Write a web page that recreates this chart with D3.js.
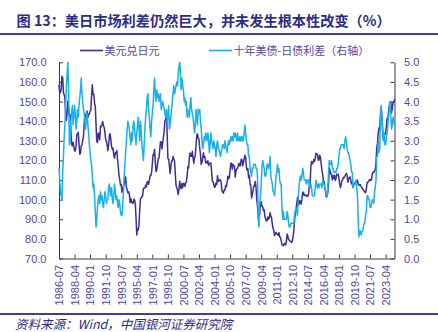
<!DOCTYPE html>
<html>
<head>
<meta charset="utf-8">
<script src="https://cdn.jsdelivr.net/npm/d3@7"></script>
<style>
  html, body { margin: 0; padding: 0; background: #fff; }
  svg { display: block; }
</style>
</head>
<body>
<svg id="chart" width="438" height="332"></svg>
<script>
// Monthly series starting 1986-07
const startYear = 1986, startMonth = 7;

// USD/JPY (left axis)
const usdJpy = [
  158.6, 154.2, 154.7, 156.5, 162.9, 162.1,                                   // 1986 H2
  154.5, 153.5, 151.6, 143.0, 140.5, 144.5, 150.3, 147.3, 143.3, 143.3, 135.4, 128.3, // 1987
  127.4, 129.3, 127.1, 124.9, 124.8, 127.2, 133.1, 133.6, 134.3, 128.6, 123.2, 123.6, // 1988
  127.4, 127.8, 130.4, 132.0, 138.4, 143.9, 140.4, 141.5, 145.1, 141.9, 143.5, 143.6, // 1989
  145.0, 145.7, 153.3, 158.5, 153.5, 153.7, 149.0, 147.5, 138.4, 129.6, 129.2, 133.9, // 1990
  133.7, 130.5, 137.4, 137.1, 138.2, 139.8, 137.8, 136.8, 134.3, 130.8, 129.6, 128.0, // 1991
  125.0, 127.6, 132.8, 133.6, 130.6, 126.9, 125.6, 126.3, 122.6, 121.2, 123.9, 123.7, // 1992
  125.0, 120.8, 117.0, 112.4, 110.3, 107.4, 107.7, 103.8, 105.3, 107.0, 107.9, 109.9, // 1993
  111.5, 106.3, 105.1, 103.5, 104.0, 102.7, 98.5, 100.6, 98.9, 98.4, 98.0, 100.2,     // 1994
  99.8, 98.2, 90.7, 82.0, 85.2, 84.6, 87.2, 94.7, 100.5, 100.8, 101.9, 101.9,         // 1995
  105.8, 105.8, 105.9, 107.4, 106.5, 108.9, 109.2, 107.8, 109.8, 112.3, 112.3, 113.9, // 1996
  118.0, 123.0, 122.6, 125.6, 119.2, 114.3, 115.1, 117.9, 120.9, 121.1, 125.4, 129.5, // 1997
  129.5, 125.9, 129.0, 132.0, 134.9, 140.3, 140.7, 144.7, 134.5, 121.1, 120.7, 117.4, // 1998
  113.3, 116.7, 119.7, 119.7, 122.0, 120.7, 119.8, 113.4, 107.4, 106.0, 104.8, 102.6, // 1999
  105.3, 109.4, 106.3, 105.6, 108.3, 106.1, 108.2, 108.1, 106.8, 108.4, 109.0, 112.2, // 2000
  116.7, 116.2, 121.5, 123.8, 122.1, 122.1, 124.5, 121.3, 118.6, 121.5, 122.4, 127.6, // 2001
  132.7, 133.6, 131.1, 130.8, 126.3, 123.2, 118.0, 118.9, 121.1, 123.9, 121.6, 121.9, // 2002
  118.8, 119.3, 118.6, 119.8, 117.4, 118.3, 118.7, 118.7, 114.8, 109.5, 109.2, 107.7, // 2003
  106.3, 106.7, 108.5, 107.7, 112.2, 109.4, 109.4, 110.2, 110.0, 108.8, 104.7, 103.8, // 2004
  103.3, 104.9, 104.8, 107.2, 106.6, 108.8, 111.9, 110.6, 111.2, 114.9, 118.5, 118.5, // 2005
  115.5, 117.9, 117.3, 117.1, 111.5, 114.6, 115.7, 115.9, 117.2, 118.6, 117.3, 117.3, // 2006
  120.6, 120.5, 117.3, 118.8, 120.8, 122.6, 121.6, 116.7, 115.0, 115.9, 111.1, 112.4, // 2007
  107.8, 107.1, 100.8, 102.7, 104.4, 106.9, 106.9, 109.3, 106.6, 100.0, 96.8, 91.3,   // 2008
  90.1, 92.5, 97.8, 98.9, 96.6, 96.6, 94.5, 94.9, 91.4, 90.3, 89.1, 89.5,             // 2009
  91.1, 90.1, 90.7, 93.4, 91.7, 90.9, 87.6, 85.4, 84.3, 81.7, 82.5, 83.3,             // 2010
  82.6, 82.5, 81.8, 83.2, 81.2, 80.5, 79.3, 77.0, 76.8, 76.5, 77.5, 77.8,             // 2011
  76.9, 78.5, 82.5, 81.3, 79.7, 79.3, 78.9, 78.7, 78.2, 79.0, 80.9, 83.9,             // 2012
  89.2, 93.1, 94.9, 97.8, 101.1, 97.3, 99.7, 97.9, 99.3, 97.8, 100.1, 103.5,          // 2013
  103.9, 102.1, 102.3, 102.5, 101.8, 102.1, 101.7, 102.9, 107.4, 108.0, 116.4, 119.4, // 2014
  118.3, 118.8, 120.4, 119.5, 120.8, 123.7, 123.3, 123.1, 120.1, 120.1, 122.6, 121.6, // 2015
  118.3, 115.0, 113.0, 109.7, 109.2, 105.5, 104.1, 101.3, 101.8, 103.8, 108.6, 116.1, // 2016
  114.9, 113.1, 113.0, 110.1, 112.2, 110.9, 112.4, 109.8, 110.8, 112.9, 112.8, 112.9, // 2017
  110.9, 107.9, 106.1, 107.6, 109.7, 110.1, 111.4, 111.1, 111.9, 112.8, 113.4, 112.3, // 2018
  108.9, 110.4, 111.2, 111.6, 109.9, 108.1, 108.2, 106.2, 107.5, 108.2, 108.9, 109.1, // 2019
  109.3, 110.0, 107.7, 107.8, 107.2, 107.6, 106.7, 106.0, 105.6, 105.2, 104.4, 103.7, // 2020
  103.7, 105.4, 108.7, 109.0, 109.1, 110.1, 110.2, 109.8, 110.2, 113.1, 114.0, 113.9, // 2021
  114.8, 115.2, 118.5, 126.3, 128.8, 133.9, 136.6, 135.3, 143.1, 147.1, 142.4, 134.9, // 2022
  130.4, 133.0, 133.7, 133.4, 137.1, 141.3, 141.2, 144.9, 147.9, 149.7, 149.8, 144.3, // 2023
  146.3, 149.7, 149.7, 151.2                                                          // 2024
];

// 10Y UST - 10Y JGB spread, % (right axis)
const yieldSpread = [
  2.3, 2.0, 1.7, 1.6, 1.5, 2.2,                               // 1986 H2
  2.6, 3.1, 3.4, 3.9, 4.4, 4.7, 5.0, 4.2, 2.9, 3.0, 3.5, 3.7, // 1987
  3.9, 3.4, 3.6, 3.9, 3.7, 3.3, 3.5, 3.8, 3.6, 3.9, 4.1, 4.3, // 1988
  4.6, 4.2, 4.0, 3.8, 3.7, 3.5, 3.3, 3.6, 3.7, 3.4, 3.2, 2.9, // 1989
  2.7, 2.5, 2.4, 2.1, 1.8, 1.9, 1.6, 1.2, 0.8, 1.0, 1.3, 1.5, // 1990
  1.6, 1.4, 1.7, 1.5, 1.6, 1.4, 1.3, 1.5, 1.7, 1.6, 1.4, 1.5, // 1991
  1.5, 1.8, 1.9, 1.7, 1.6, 1.8, 1.5, 1.4, 1.6, 1.9, 1.7, 1.5, // 1992
  1.6, 1.4, 1.3, 1.5, 1.4, 1.2, 1.1, 1.1, 1.3, 1.7, 2.1, 2.4, // 1993
  2.7, 3.0, 3.3, 3.5, 3.4, 3.3, 3.1, 2.9, 3.2, 3.0, 3.4, 3.5, // 1994
  3.3, 3.1, 2.9, 3.2, 3.4, 3.6, 3.3, 3.0, 3.5, 3.2, 2.9, 2.7, // 1995
  2.5, 2.9, 3.3, 3.6, 3.8, 4.1, 4.2, 3.8, 3.6, 3.3, 3.1, 3.5, // 1996
  3.7, 3.9, 4.3, 4.6, 4.2, 4.0, 4.3, 4.1, 4.2, 4.0, 4.1, 4.2, // 1997
  3.8, 3.9, 4.0, 3.9, 3.8, 3.7, 3.6, 3.8, 3.5, 3.6, 3.9, 3.3, // 1998
  3.4, 3.6, 3.8, 4.0, 4.2, 4.4, 4.2, 4.3, 4.4, 4.5, 4.4, 4.7, // 1999
  4.9, 5.0, 4.7, 4.3, 4.6, 4.4, 4.3, 4.0, 4.1, 3.9, 4.0, 3.6, // 2000
  3.8, 3.7, 3.6, 3.9, 4.1, 3.8, 3.7, 3.6, 3.4, 3.2, 3.4, 3.8, // 2001
  3.6, 3.4, 3.8, 3.7, 3.8, 3.5, 3.3, 3.0, 2.8, 2.9, 3.1, 3.0, // 2002
  3.2, 3.1, 3.0, 3.2, 3.0, 2.7, 2.9, 3.2, 3.0, 2.9, 2.8, 3.0, // 2003
  2.9, 2.8, 2.6, 2.9, 3.0, 2.8, 2.8, 2.7, 2.6, 2.7, 2.8, 2.9, // 2004
  2.9, 2.8, 3.0, 2.9, 2.8, 2.7, 2.9, 3.0, 2.9, 3.0, 3.1, 3.0, // 2005
  3.1, 3.0, 3.2, 3.1, 3.2, 3.1, 3.0, 3.2, 3.0, 3.0, 3.1, 3.0, // 2006
  3.1, 3.0, 3.1, 3.0, 3.2, 3.4, 3.2, 3.0, 2.9, 2.9, 2.6, 2.6, // 2007
  2.3, 2.2, 2.1, 2.3, 2.3, 2.4, 2.4, 2.4, 2.3, 2.3, 2.1, 1.0, // 2008
  0.8, 1.4, 1.6, 1.9, 2.3, 2.5, 2.4, 2.3, 2.1, 2.1, 2.2, 2.4, // 2009
  2.4, 2.3, 2.4, 2.6, 2.1, 2.0, 1.9, 1.7, 1.7, 1.6, 1.8, 2.1, // 2010
  2.2, 2.4, 2.2, 2.3, 2.0, 1.9, 1.9, 1.3, 1.0, 1.2, 1.0, 1.0, // 2011
  1.0, 1.0, 1.2, 1.1, 0.9, 0.8, 0.8, 0.9, 0.9, 0.9, 0.9, 0.9, // 2012
  1.1, 1.2, 1.3, 1.2, 1.1, 1.5, 1.8, 2.0, 2.1, 2.0, 2.1, 2.3, // 2013
  2.2, 2.0, 2.0, 2.0, 1.9, 2.0, 2.0, 1.9, 2.0, 1.8, 1.9, 1.8, // 2014
  1.6, 1.6, 1.6, 1.6, 1.8, 2.0, 1.9, 1.8, 1.9, 1.8, 1.9, 1.9, // 2015
  1.9, 1.8, 2.0, 1.9, 1.9, 1.8, 1.7, 1.6, 1.6, 1.8, 2.2, 2.5, // 2016
  2.4, 2.4, 2.5, 2.3, 2.3, 2.2, 2.2, 2.2, 2.2, 2.3, 2.3, 2.4, // 2017
  2.6, 2.8, 2.8, 2.9, 2.9, 2.9, 2.9, 2.8, 3.0, 3.1, 3.0, 2.8, // 2018
  2.7, 2.7, 2.6, 2.5, 2.4, 2.2, 2.2, 1.8, 1.9, 1.9, 1.9, 2.0, // 2019
  1.8, 1.6, 1.0, 0.55, 0.7, 0.7, 0.6, 0.7, 0.7, 0.8, 0.9, 0.9, // 2020
  1.1, 1.2, 1.6, 1.6, 1.5, 1.5, 1.3, 1.3, 1.4, 1.5, 1.5, 1.4, // 2021
  1.7, 1.8, 2.0, 2.6, 2.6, 3.0, 2.7, 2.8, 3.5, 3.9, 3.6, 3.3, // 2022
  3.0, 3.2, 2.9, 2.9, 3.1, 3.2, 3.4, 3.6, 3.8, 4.0, 3.7, 3.3, // 2023
  3.4, 3.6, 3.5, 3.4                                          // 2024
];

// Category labels (yyyy-mm), one per month
const categories = usdJpy.map((_, i) => {
  const t = (startMonth - 1) + i;
  const y = startYear + Math.floor(t / 12);
  const m = (t % 12) + 1;
  return y + "-" + String(m).padStart(2, "0");
});

// Labelled months on the category axis
const tickLabels = [
  "1986-07", "1988-04", "1990-01", "1991-10", "1993-07", "1995-04",
  "1997-01", "1998-10", "2000-07", "2002-04", "2004-01", "2005-10",
  "2007-07", "2009-04", "2011-01", "2012-10", "2014-07", "2016-04",
  "2018-01", "2019-10", "2021-07", "2023-04"
];

const leftTicks = [70, 80, 90, 100, 110, 120, 130, 140, 150, 160, 170];
const rightTicks = [0, 0.5, 1, 1.5, 2, 2.5, 3, 3.5, 4, 4.5, 5];

const seriesNames = ["美元兑日元", "十年美债-日债利差（右轴）"];
const titleText = "图 13：美日市场利差仍然巨大，并未发生根本性改变（%）";
const sourceText = "资料来源：Wind，中国银河证券研究院";

// ---- drawing ----
const svg = d3.select("#chart");
const W = 438, H = 332;
const plot = { left: 59, right: 394.5, top: 62.3, bottom: 258.5 };
const COL_DARK = "#3f2e98";
const COL_CYAN = "#17b1ec";
const COL_TEXT = "#5246a8";
const COL_RULE = "#463a9c";
const COL_TITLE = "#2c2b86";
const AXIS_FONT = "'Liberation Sans', Arial, sans-serif";
const CJK_FONT = "'Noto Sans CJK SC', 'Noto Sans', sans-serif";

svg.append("rect").attr("width", W).attr("height", H).attr("fill", "#fff");

// Title and rules
svg.append("text")
  .attr("x", 16.5).attr("y", 25.5)
  .attr("font-family", CJK_FONT)
  .attr("font-size", 14.2)
  .attr("font-weight", 700)
  .attr("fill", COL_TITLE)
  .text(titleText);
svg.append("rect").attr("x", 0).attr("y", 33).attr("width", W).attr("height", 2).attr("fill", COL_RULE);
svg.append("rect").attr("x", 0).attr("y", 313).attr("width", W).attr("height", 2).attr("fill", COL_RULE);

svg.append("text")
  .attr("x", 15).attr("y", 328.5)
  .attr("font-family", CJK_FONT)
  .attr("font-size", 12.5)
  .attr("font-style", "italic")
  .attr("fill", COL_TITLE)
  .text(sourceText);

// Scales
const x = d3.scaleLinear().domain([0, categories.length - 1]).range([plot.left, plot.right]);
const yL = d3.scaleLinear().domain([70, 170]).range([plot.bottom, plot.top]);
const yR = d3.scaleLinear().domain([0, 5]).range([plot.bottom, plot.top]);

// Axes
const axisColor = "#3a3a3a";
function styleAxis(g) {
  g.selectAll("path.domain").attr("stroke", axisColor).attr("stroke-width", 1);
  g.selectAll(".tick line").attr("stroke", axisColor).attr("stroke-width", 1);
  g.selectAll(".tick text")
    .attr("fill", COL_TEXT)
    .attr("font-family", AXIS_FONT)
    .attr("font-size", 11);
}

const gL = svg.append("g")
  .attr("transform", `translate(${plot.left},0)`)
  .call(d3.axisLeft(yL).tickValues(leftTicks).tickFormat(d3.format(".1f"))
    .tickSizeInner(-4).tickSizeOuter(0).tickPadding(12.5));
styleAxis(gL);

const gR = svg.append("g")
  .attr("transform", `translate(${plot.right},0)`)
  .call(d3.axisRight(yR).tickValues(rightTicks).tickFormat(d3.format(".1f"))
    .tickSizeInner(-4).tickSizeOuter(0).tickPadding(9.5));
styleAxis(gR);

const tickIdx = tickLabels.map(l => categories.indexOf(l));
const gB = svg.append("g")
  .attr("transform", `translate(0,${plot.bottom})`)
  .call(d3.axisBottom(x).tickValues(tickIdx)
    .tickFormat(i => categories[i])
    .tickSizeInner(-4).tickSizeOuter(0).tickPadding(0));
styleAxis(gB);
gB.selectAll(".tick text")
  .attr("transform", "rotate(-90)")
  .attr("text-anchor", "end")
  .attr("x", -6.5)
  .attr("y", 0)
  .attr("dy", "0.35em");

// Lines
const lineL = d3.line().x((d, i) => x(i)).y(d => yL(d));
const lineR = d3.line().x((d, i) => x(i)).y(d => yR(d));

svg.append("path")
  .datum(usdJpy)
  .attr("d", lineL)
  .attr("fill", "none")
  .attr("stroke", COL_DARK)
  .attr("stroke-width", 1.5)
  .attr("stroke-linejoin", "round");

svg.append("path")
  .datum(yieldSpread)
  .attr("d", lineR)
  .attr("fill", "none")
  .attr("stroke", COL_CYAN)
  .attr("stroke-width", 1.5)
  .attr("stroke-linejoin", "round");

// Legend
const legend = [
  { name: seriesNames[0], color: COL_DARK, x: 80 },
  { name: seriesNames[1], color: COL_CYAN, x: 209 }
];
const lg = svg.append("g");
legend.forEach(d => {
  lg.append("line")
    .attr("x1", d.x).attr("x2", d.x + 23)
    .attr("y1", 50.5).attr("y2", 50.5)
    .attr("stroke", d.color).attr("stroke-width", 1.6);
  lg.append("text")
    .attr("x", d.x + 24.5).attr("y", 54.5)
    .attr("font-family", CJK_FONT)
    .attr("font-size", 11)
    .attr("fill", COL_TEXT)
    .text(d.name);
});
</script>
</body>
</html>
